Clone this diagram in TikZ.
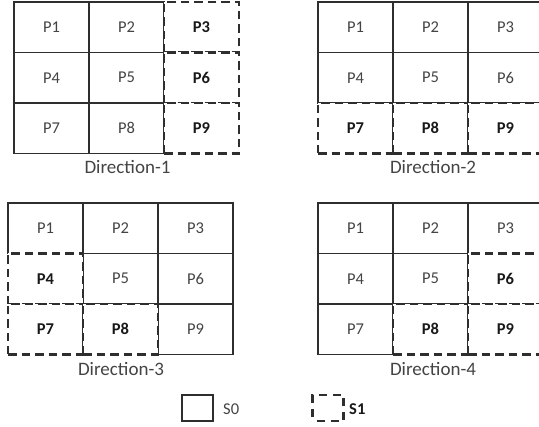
\documentclass[tikz,border=0pt]{standalone}
\usepackage{fontspec}
\setmainfont{Carlito}
\definecolor{linec}{HTML}{2E2E2E}
\definecolor{txtc}{HTML}{444444}
\tikzset{
  cell/.style={draw=linec, line width=1.4pt, minimum width=75pt, minimum height=50.5pt,
    inner sep=0pt, text=txtc, font=\fontsize{16.5}{16.5}\selectfont},
  dcell/.style={cell, fill=white, line width=2.2pt, dash pattern=on 8.5pt off 5pt,
    text=black!90, font=\fontsize{16.5}{16.5}\selectfont\bfseries},
  dirlabel/.style={text=txtc, font=\fontsize{19}{19}\selectfont, inner sep=0pt},
  legbox/.style={draw=linec, line width=1.4pt, minimum width=31pt, minimum height=26pt, inner sep=0pt},
  dlegbox/.style={legbox, line width=2.2pt, dash pattern=on 8pt off 6pt, dash phase=-4pt},
  legtext/.style={anchor=west, inner sep=0pt, font=\fontsize{16.5}{16.5}\selectfont}
}
\newcommand\drawgrid[4]{%
  \foreach \i/\s in {#4}{%
    \pgfmathtruncatemacro\cc{mod(\i-1,3)}%
    \pgfmathtruncatemacro\rr{(\i-1)/3}%
    \node[\s] (g#1p\i) at ({#2+37.5+75*\cc},{#3+25.25+50.5*\rr}) {P\i};
  }%
}
\begin{document}
\begin{tikzpicture}[x=1pt,y=-1pt]
\clip (0,0) rectangle (539,427);
\fill[white] (0,0) rectangle (539,427);
% Direction-1
\drawgrid{1}{14}{2}{1/cell,2/cell,4/cell,5/cell,7/cell,8/cell,3/dcell,6/dcell,9/dcell}
\node[dirlabel] (d1) at (127.5,167) {Direction-1};
% Direction-2
\drawgrid{2}{318}{2}{1/cell,2/cell,3/cell,4/cell,5/cell,6/cell,7/dcell,8/dcell,9/dcell}
\node[dirlabel] (d2) at (433,167) {Direction-2};
% Direction-3
\drawgrid{3}{8}{203}{1/cell,2/cell,3/cell,5/cell,6/cell,9/cell,4/dcell,7/dcell,8/dcell}
\node[dirlabel] (d3) at (121,369) {Direction-3};
% Direction-4
\drawgrid{4}{318}{203}{1/cell,2/cell,3/cell,4/cell,5/cell,7/cell,6/dcell,8/dcell,9/dcell}
\node[dirlabel] (d4) at (433,369) {Direction-4};
% legend
\node[legbox] (s0) at (197.5,408) {};
\node[legtext, text=txtc] (s0t) at (223,409) {S0};
\node[dlegbox] (s1) at (328,408) {};
\node[legtext, text=black!90, font=\fontsize{16.5}{16.5}\selectfont\bfseries] (s1t) at (349,409) {S1};
\end{tikzpicture}
\end{document}
